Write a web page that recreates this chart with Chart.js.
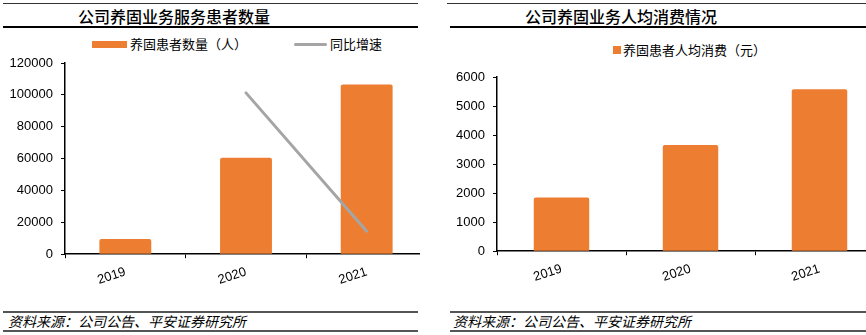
<!DOCTYPE html>
<html>
<head>
<meta charset="utf-8">
<script src="https://cdn.jsdelivr.net/npm/chart.js@4"></script>
<style>
  html, body { margin: 0; padding: 0; background: #fff; }
  body { width: 866px; height: 335px; position: relative; overflow: hidden;
         font-family: "Noto Sans CJK SC", "Liberation Sans", sans-serif; color: #000; }
  .panel { position: absolute; top: 0; height: 335px; overflow: hidden; }
  .rule { position: absolute; }
  .title { position: absolute; top: 5px; font-size: 16px; line-height: 22px; white-space: nowrap; font-weight: 500; }
  .legend { position: absolute; font-size: 13px; line-height: 16px; white-space: nowrap; }
  .legend span { display: inline-block; vertical-align: middle; }
  .chartbox { position: absolute; top: 30px; }
  .source { position: absolute; top: 312px; font-size: 14px; line-height: 18px; font-style: italic; white-space: nowrap; }
</style>
</head>
<body>
<div class="panel" id="left" style="left:0;width:420px;">
  <div class="rule" style="top:3px;left:3px;width:415px;border-top:1px solid #333;"></div>
  <div class="title" style="left:78px;">公司养固业务服务患者数量</div>
  <div class="rule" style="top:26px;left:3px;width:415px;border-top:2px solid #000;"></div>
  <div class="legend" style="left:92px;top:35px;">
    <span style="width:35px;height:7px;background:#ED7D31;"></span><span style="margin-left:3px;">养固患者数量（人）</span><span style="width:33px;height:3px;background:#A5A5A5;margin-left:47px;border-radius:2px;"></span><span style="margin-left:3px;">同比增速</span>
  </div>
  <div class="chartbox" style="left:0;width:427px;height:265px;"><canvas id="c1"></canvas></div>
  <div class="rule" style="top:311px;left:3px;width:415px;border-top:2px solid #555;"></div>
  <div class="source" style="left:8px;">资料来源：公司公告、平安证券研究所</div>
  <div class="rule" style="top:330px;left:3px;width:415px;border-top:2px solid #555;"></div>
</div>

<div class="panel" id="right" style="left:440px;width:426px;">
  <div class="rule" style="top:3px;left:7px;width:419px;border-top:1px solid #333;"></div>
  <div class="title" style="left:85px;">公司养固业务人均消费情况</div>
  <div class="rule" style="top:26px;left:10px;width:416px;border-top:2px solid #000;"></div>
  <div class="legend" style="left:173px;top:41px;">
    <span style="width:8px;height:8px;background:#ED7D31;"></span><span style="margin-left:2px;">养固患者人均消费（元）</span>
  </div>
  <div class="chartbox" style="left:0;width:444px;height:265px;"><canvas id="c2"></canvas></div>
  <div class="rule" style="top:311px;left:10px;width:416px;border-top:2px solid #555;"></div>
  <div class="source" style="left:13px;">资料来源：公司公告、平安证券研究所</div>
  <div class="rule" style="top:330px;left:10px;width:416px;border-top:2px solid #555;"></div>
</div>

<script>
  // data
  const years = ['2019', '2020', '2021'];
  const patients = [9500, 60500, 106500];        // 养固患者数量（人）
  const patientGrowth = [null, 540, 77];          // 同比增速（%），右轴隐藏
  const perCapitaSpend = [1850, 3660, 5580];      // 养固患者人均消费（元）

  const ORANGE = '#ED7D31';
  const GREY = '#A5A5A5';
  const tickFont = { family: 'Liberation Sans', size: 13 };

  Chart.defaults.color = '#000';

  function xAxis() {
    return {
      ticks: { font: tickFont, minRotation: 18, maxRotation: 18, padding: 6 },
      grid: { drawOnChartArea: false, tickLength: 4, color: '#000' },
      border: { color: '#000', width: 1.5 }
    };
  }

  function yAxis(max, step, width) {
    return {
      min: 0, max: max,
      ticks: { stepSize: step, font: tickFont, padding: 8, callback: v => String(v) },
      grid: { drawOnChartArea: false, tickLength: 4, color: '#000' },
      border: { color: '#000', width: 1.5 },
      afterFit: s => { s.width = width; }
    };
  }

  new Chart(document.getElementById('c1'), {
    data: {
      labels: years,
      datasets: [
        {
          type: 'line', label: '同比增速', data: patientGrowth, yAxisID: 'y2',
          borderColor: GREY, borderWidth: 3, borderCapStyle: 'round',
          pointRadius: 0, tension: 0, order: 0
        },
        {
          type: 'bar', label: '养固患者数量（人）', data: patients,
          backgroundColor: ORANGE, borderRadius: 2, borderSkipped: 'bottom',
          categoryPercentage: 1, barPercentage: 0.43, order: 1
        }
      ]
    },
    options: {
      responsive: true, maintainAspectRatio: false, animation: false,
      layout: { padding: { top: 33, left: 0, right: 0, bottom: 1 } },
      plugins: { legend: { display: false }, tooltip: { enabled: false } },
      scales: {
        x: xAxis(),
        y: yAxis(120000, 20000, 65),
        y2: { display: false, min: 0, max: 640 }
      }
    }
  });

  new Chart(document.getElementById('c2'), {
    type: 'bar',
    data: {
      labels: years,
      datasets: [{
        label: '养固患者人均消费（元）', data: perCapitaSpend,
        backgroundColor: ORANGE, borderRadius: 2, borderSkipped: 'bottom',
        categoryPercentage: 1, barPercentage: 0.43
      }]
    },
    options: {
      responsive: true, maintainAspectRatio: false, animation: false,
      layout: { padding: { top: 47, left: 0, right: 0, bottom: 4 } },
      plugins: { legend: { display: false }, tooltip: { enabled: false } },
      scales: {
        x: xAxis(),
        y: yAxis(6000, 1000, 57)
      }
    }
  });
</script>
</body>
</html>
